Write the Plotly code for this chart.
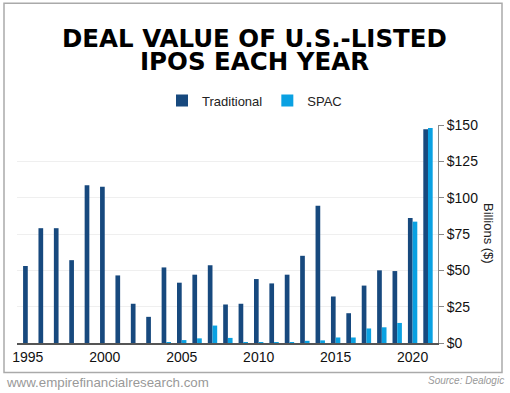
import plotly.graph_objects as go

years = list(range(1995, 2022))
traditional = [53, 79, 79, 57, 108.5, 107.5, 46.5, 27, 18, 52, 41.5, 47, 53.5, 26.5, 27,
               44, 41, 47, 60, 94.5, 32, 20.5, 39.5, 50, 49.5, 86, 147]
spac = [0, 0, 0, 0, 0, 0, 0, 0, 0, 0.5, 2, 3.2, 12, 3.5, 0.1,
        0.2, 0.6, 0.5, 1.5, 1.8, 3.8, 3.8, 10, 10.8, 13.8, 83.5, 148]
y_ticks = [0, 25, 50, 75, 100, 125, 150]
y_tick_labels = ["$0", "$25", "$50", "$75", "$100", "$125", "$150"]
x_ticks = [1995, 2000, 2005, 2010, 2015, 2020]

W, H = 510, 393
L, R = 17, 438          # plot area px
T, B = 125.3, 342.7

def px_x(x):
    return (x - L) / (R - L)

def px_y(y):
    return (B - y) / (B - T)

fig = go.Figure()
fig.add_trace(go.Bar(x=years, y=traditional, name="Traditional",
                     marker=dict(color="#17497e", line=dict(width=0))))
fig.add_trace(go.Bar(x=years, y=spac, name="SPAC",
                     marker=dict(color="#0aa1e2", line=dict(width=0))))

fig.update_layout(
    width=W, height=H,
    margin=dict(l=L, r=W - R, t=T, b=H - B),
    paper_bgcolor="white", plot_bgcolor="white",
    barmode="group", bargap=0.39, bargroupgap=0,
    showlegend=True,
    legend=dict(orientation="h", x=px_x(254.5), y=px_y(101), xanchor="center", yanchor="middle",
                font=dict(family="Liberation Sans Narrow, Liberation Sans, Arial", size=13, color="#222")),
    font=dict(family="Liberation Sans, Arial", color="#222"),
)
fig.update_xaxes(range=[1994.3, 2021.65], tickvals=x_ticks, ticks="", showgrid=False,
                 showline=True, linecolor="#555", linewidth=1.5,
                 tickfont=dict(size=14, color="#111", family="Liberation Sans, Arial"), zeroline=False)
fig.update_yaxes(range=[0, 150], side="right", tickmode="array", tickvals=y_ticks, ticktext=y_tick_labels,
                 showgrid=True, gridcolor="#efefef", gridwidth=1.2,
                 showline=True, linecolor="#888", linewidth=1, ticks="outside",
                 ticklen=5, tickcolor="#888", zeroline=False,
                 tickfont=dict(size=14, color="#111", family="Liberation Sans, Arial"))

# outer frame
fig.add_shape(type="rect", xref="paper", yref="paper",
              x0=px_x(4), x1=px_x(502), y0=px_y(372), y1=px_y(4),
              line=dict(color="#aaaaaa", width=1.5), fillcolor="rgba(0,0,0,0)", layer="below")

title_font = dict(family="DejaVu Sans", size=24.5, color="black", weight="bold")
fig.add_annotation(text="DEAL VALUE OF U.S.-LISTED", xref="paper", yref="paper",
                   x=px_x(254), y=px_y(39.5), xanchor="center", yanchor="middle",
                   showarrow=False, font=title_font)
fig.add_annotation(text="IPOS EACH YEAR", xref="paper", yref="paper",
                   x=px_x(254), y=px_y(62), xanchor="center", yanchor="middle",
                   showarrow=False, font=title_font)
fig.add_annotation(text="Billions ($)", xref="paper", yref="paper",
                   x=px_x(488), y=px_y(233), xanchor="center", yanchor="middle",
                   textangle=90, showarrow=False,
                   font=dict(family="Liberation Sans, Arial", size=13, color="#222"))
fig.add_annotation(text="www.empirefinancialresearch.com", xref="paper", yref="paper",
                   x=px_x(4), y=px_y(382), xanchor="left", yanchor="middle",
                   showarrow=False,
                   font=dict(family="Liberation Sans, Arial", size=13.3, color="#999"))
fig.add_annotation(text="<i>Source: Dealogic</i>", xref="paper", yref="paper",
                   x=px_x(506), y=px_y(380), xanchor="right", yanchor="middle",
                   showarrow=False,
                   font=dict(family="Liberation Sans, Arial", size=10, color="#999"))

fig.write_html("out.html", config={"displayModeBar": False},
               post_script="document.body.style.margin='0';")
